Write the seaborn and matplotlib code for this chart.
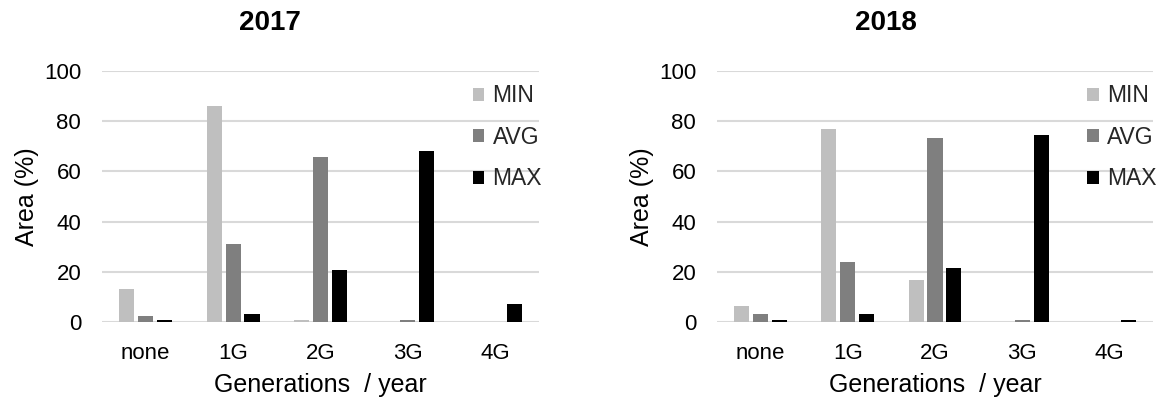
import matplotlib
matplotlib.use("Agg")
import matplotlib.pyplot as plt
import seaborn as sns
import pandas as pd

categories = ["none", "1G", "2G", "3G", "4G"]
series_names = ["MIN", "AVG", "MAX"]

min_2017 = [13.3, 86.2, 0.9, 0.0, 0.0]
avg_2017 = [2.3, 30.9, 65.6, 0.9, 0.0]
max_2017 = [0.9, 3.2, 20.7, 68.2, 7.2]

min_2018 = [6.5, 76.8, 16.6, 0.0, 0.0]
avg_2018 = [3.3, 23.9, 73.5, 0.9, 0.0]
max_2018 = [0.9, 3.3, 21.5, 74.4, 0.9]

years = ["2017", "2018"]
y_ticks = [0, 20, 40, 60, 80, 100]
colors = ["#BFBFBF", "#7F7F7F", "#000000"]

sns.set_theme(style="white")
plt.rcParams["font.family"] = ["Liberation Sans", "DejaVu Sans"]

def make_df(mn, av, mx):
    rows = []
    for s, vals in zip(series_names, [mn, av, mx]):
        for c, v in zip(categories, vals):
            rows.append({"cat": c, "series": s, "value": v})
    return pd.DataFrame(rows)

data = {"2017": make_df(min_2017, avg_2017, max_2017),
        "2018": make_df(min_2018, avg_2018, max_2018)}

W, H = 1162, 405
fig = plt.figure(figsize=(W / 100, H / 100), dpi=100)

ax_px = {"2017": (102, 539), "2018": (717, 1153)}
title_x = {"2017": 270, "2018": 886}
top_px, bot_px = 71, 322

for yr in years:
    x0, x1 = ax_px[yr]
    ax = fig.add_axes([x0 / W, 1 - bot_px / H, (x1 - x0) / W, (bot_px - top_px) / H])
    sns.barplot(data=data[yr], x="cat", y="value", hue="series",
                order=categories, hue_order=series_names,
                palette=colors, width=0.65, gap=0.2, ax=ax,
                saturation=1, linewidth=0, errorbar=None)
    ax.set_ylim(0, 100)
    ax.set_xlim(-0.5, 4.5)
    ax.set_yticks(y_ticks)
    ax.yaxis.grid(True, color="#D9D9D9", linewidth=1.5)
    ax.set_axisbelow(True)
    for sp in ax.spines.values():
        sp.set_visible(False)
    ax.tick_params(axis="both", length=0, labelsize=16, colors="#000000")
    ax.tick_params(axis="y", pad=15)
    ax.tick_params(axis="x", pad=15)
    ax.set_ylabel("Area (%)", fontsize=18, color="#000000")
    ax.set_xlabel("Generations  / year", fontsize=18, color="#000000")
    ax.yaxis.set_label_coords(-0.145, 0.5)
    ax.xaxis.set_label_coords(0.5, -0.205)
    handles, labels = ax.get_legend_handles_labels()
    ax.legend(handles, labels, loc="upper left", bbox_to_anchor=(0.849, 0.947),
              frameon=False, fontsize=16.5, handlelength=0.5, handleheight=0.5,
              handletextpad=0.35, labelspacing=0.81, borderpad=0, borderaxespad=0)
    fig.text(title_x[yr] / W, 1 - 22.5 / H, yr, ha="center", va="center",
             fontsize=20, fontweight="bold", color="#000000")

fig.savefig("out.png", dpi=100)
